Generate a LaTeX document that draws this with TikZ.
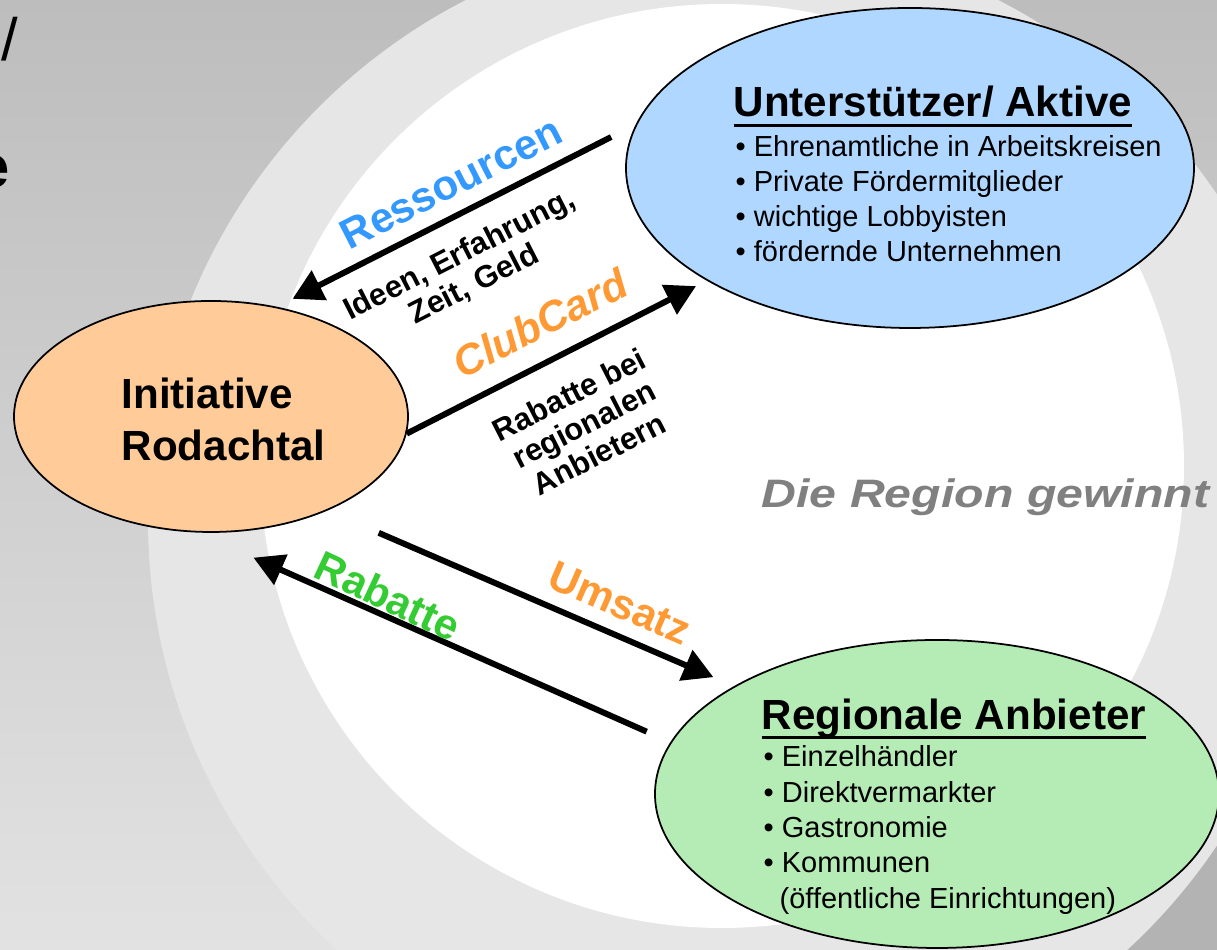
\documentclass[tikz,border=0pt]{standalone}
\usepackage{fontspec}
\setmainfont{Liberation Sans}
\usepackage{graphicx}
\usetikzlibrary{shapes.geometric,arrows.meta}

\definecolor{bgtop}{HTML}{BDBDBD}
\definecolor{bgbot}{HTML}{E2E2E2}
\definecolor{bgdark}{HTML}{B3B3B3}
\definecolor{ring}{HTML}{E6E6E6}
\definecolor{iniorange}{HTML}{FFCC99}
\definecolor{aktblue}{HTML}{B0D7FF}
\definecolor{anbgreen}{HTML}{B5EBB5}
\definecolor{resblue}{HTML}{3399FF}
\definecolor{cardorange}{HTML}{FF9933}
\definecolor{rabgreen}{HTML}{33CC33}
\definecolor{regiongray}{HTML}{808080}

\newsavebox{\ulsave}
\newcommand{\ulhead}[1]{\sbox{\ulsave}{#1}\rlap{\rule[-2.9pt]{\wd\ulsave}{0.95pt}}\usebox{\ulsave}}

\begin{document}
\begin{tikzpicture}[
    party/.style={ellipse, draw=black, line width=0.5pt, inner sep=0pt},
    flow/.style={line width=1.7pt, -{Triangle[length=3mm,width=3.2mm]}},
    flowlabel/.style={font=\bfseries\fontsize{12}{14}\selectfont, inner sep=0pt},
    flownote/.style={font=\bfseries\fontsize{8.8}{9.4}\selectfont, align=center, inner sep=0pt},
    head/.style={font=\bfseries\fontsize{12}{14}\selectfont, anchor=base west, inner sep=0pt},
    item/.style={font=\fontsize{8.25}{10}\selectfont, anchor=base west, inner sep=0pt},
    frag/.style={font=\fontsize{17}{20}\selectfont, inner sep=0pt}
  ]
    \useasboundingbox (0,0) rectangle (12.17,9.5);
    \clip (0,0) rectangle (12.17,9.5);
    % background
    \shade[top color=bgtop, bottom color=bgbot] (0,0) rectangle (12.17,9.5);
    \fill[bgdark] (10.5,0) rectangle (12.17,1.5);
    \fill[ring] (7.32,4.30) circle (5.84);
    \fill[white] (7.22,4.84) circle (4.62);
    % cut-off title of the slide
    \node[frag, anchor=base west] (slash) at (0.01,8.89) {/};
    \node[frag, font=\bfseries\fontsize{17}{20}\selectfont, anchor=base east] (echar) at (0.10,7.62) {e};

    % parties
    \node[party, fill=iniorange, minimum width=3.94cm, minimum height=2.31cm] (ini) at (2.11,5.335) {};
    \node[party, fill=aktblue, minimum width=5.68cm, minimum height=3.20cm] (akt) at (9.10,7.82) {};
    \node[party, fill=anbgreen, minimum width=5.64cm, minimum height=3.08cm] (anb) at (9.37,1.56) {};

    \node[head, font=\bfseries\fontsize{12}{14.8}\selectfont, anchor=west, align=left] (iniTxt) at (1.21,5.31) {Initiative\\Rodachtal};

    \node[head] (aktHead) at (7.33,8.33) {\ulhead{Unterstützer/ Aktive}};
    \foreach \txt [count=\i] in {Ehrenamtliche in Arbeitskreisen, Private Fördermitglieder, wichtige Lobbyisten, fördernde Unternehmen}
      \node[item] (aktItem\i) at (7.35,8.28-0.35*\i) {\textbullet\ \txt};

    \node[head] (anbHead) at (7.61,2.207) {\ulhead{Regionale Anbieter}};
    \foreach \txt [count=\i] in {Einzelhändler, Direktvermarkter, Gastronomie, Kommunen}
      \node[item] (anbItem\i) at (7.63,2.187-0.354*\i) {\textbullet\ \txt};
    \node[item] (anbItem5) at (7.79,0.417) {(öffentliche Einrichtungen)};

    % flows
    \draw[flow, shorten <=2.75mm, shorten >=1.75mm] (akt.171) -- (ini.59);
    \draw[flow, shorten >=1.2mm] (ini.-5) -- (akt.209);
    \draw[flow, shorten <=5.6mm, shorten >=2.25mm] (ini.321) -- (anb.152);
    \draw[flow, shorten <=2.6mm, shorten >=6.2mm] (anb.169) -- (ini.263);

    \node[flowlabel, text=resblue, rotate=27] (resLbl) at (4.51,7.67) {Ressourcen};
    \node[flownote, rotate=27] (resNote) at (4.67,6.80) {Ideen, Erfahrung,\\Zeit, Geld};
    \node[flowlabel, font=\bfseries\itshape\fontsize{12}{14}\selectfont, text=cardorange, rotate=27] (cardLbl) at (5.40,6.27) {ClubCard};
    \node[flownote, rotate=27] (cardNote) at (5.84,5.26) {Rabatte bei\\regionalen\\Anbietern};
    \node[flowlabel, text=cardorange, rotate=-23.5] (umsLbl) at (6.20,3.47) {Umsatz};
    \node[flowlabel, text=rabgreen, rotate=-25] (rabLbl) at (3.88,3.54) {Rabatte};

    \node[anchor=base west, inner sep=0pt, text=regiongray, font=\bfseries\itshape\fontsize{11.3}{13}\selectfont] (gewinnt) at (7.61,4.42) {\scalebox{1.215}[1]{Die Region gewinnt}};
\end{tikzpicture}
\end{document}
